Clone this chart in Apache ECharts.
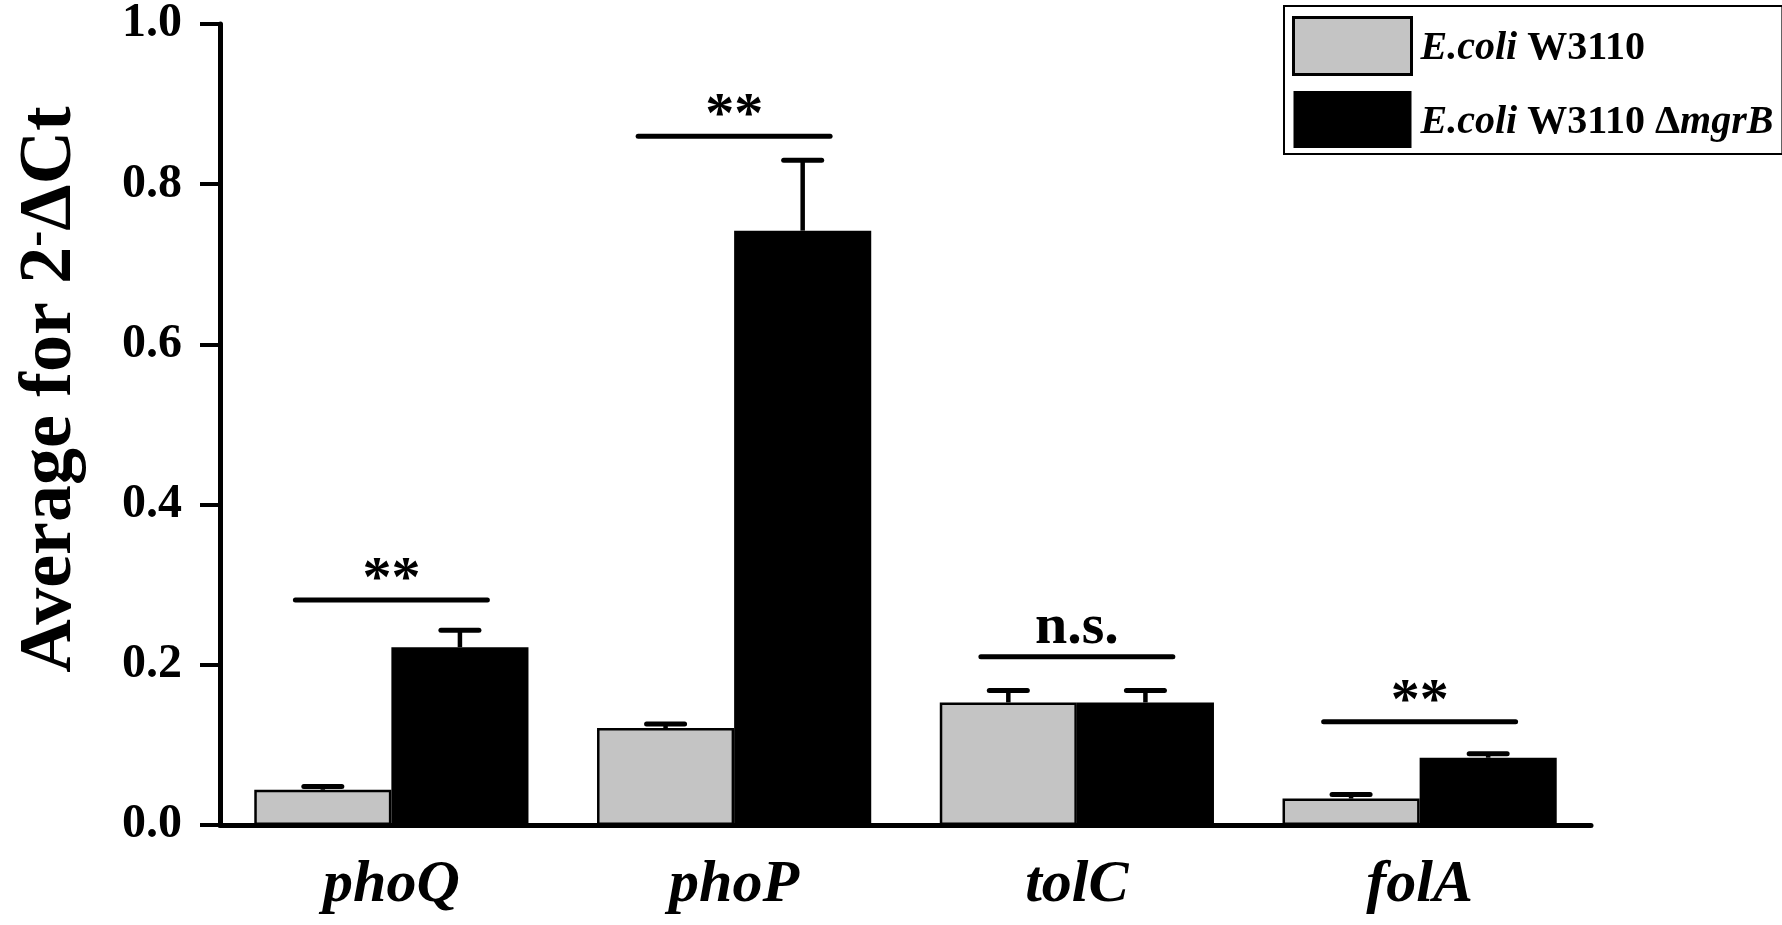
<!DOCTYPE html>
<html>
<head>
<meta charset="utf-8">
<script src="https://cdn.jsdelivr.net/npm/echarts@6/dist/echarts.min.js"></script>
<style>
html,body{margin:0;padding:0;background:#fff;}
#chart{width:1782px;height:925px;}
</style>
</head>
<body>
<div id="chart"></div>
<script>
// ---- data ----
const categories = ['phoQ', 'phoP', 'tolC', 'folA'];
const seriesNames = ['E.coli W3110', 'E.coli W3110 \u0394mgrB'];
const wtMean = [0.044, 0.121, 0.153, 0.033];
const wtErr = [0.004, 0.005, 0.015, 0.005];
const mutMean = [0.222, 0.742, 0.153, 0.084];
const mutErr = [0.021, 0.088, 0.015, 0.005];
const sigLevel = [0.281, 0.860, 0.210, 0.129];
const sigText = ['**', '**', 'n.s.', '**'];

const FONT = '"Liberation Serif", "Times New Roman", serif';

const errData = [];
categories.forEach((c, i) => {
  errData.push([i, wtMean[i], wtErr[i], 0]);
  errData.push([i, mutMean[i], mutErr[i], 1]);
});
const sigData = categories.map((c, i) => [i, sigLevel[i], i]);

const chart = echarts.init(document.getElementById('chart'), null, {renderer: 'canvas'});

const option = {
  animation: false,
  backgroundColor: '#fff',
  grid: {left: 220, right: 191, top: 24, bottom: 100, containLabel: false},
  legend: {
    orient: 'vertical',
    left: 1284,
    top: 6,
    padding: [10, 9, 6, 8],
    itemGap: 15,
    itemWidth: 118,
    itemHeight: 57,
    borderColor: '#000',
    borderWidth: 2,
    icon: 'rect',
    data: [
      {name: seriesNames[0], itemStyle: {color: '#c4c4c4', borderColor: '#000', borderWidth: 3}},
      {name: seriesNames[1], itemStyle: {color: '#000', borderColor: '#000', borderWidth: 0}}
    ],
    formatter: function (name) {
      if (name === seriesNames[0]) return '{i|E.coli }{b|W3110}';
      return '{i|E.coli }{b|W3110 \u0394}{i|mgrB}';
    },
    textStyle: {
      color: '#000',
      padding: [6, 0, 0, 4],
      rich: {
        i: {fontFamily: FONT, fontSize: 40, fontStyle: 'italic', fontWeight: 'bold', color: '#000'},
        b: {fontFamily: FONT, fontSize: 40, fontWeight: 'bold', color: '#000'}
      }
    }
  },
  xAxis: {
    type: 'category',
    data: categories,
    boundaryGap: true,
    axisLine: {lineStyle: {color: '#000', width: 5}},
    axisTick: {alignWithLabel: true, length: 22, lineStyle: {color: '#000', width: 4}},
    axisLabel: {
      color: '#000', fontFamily: FONT, fontSize: 60, fontStyle: 'italic', fontWeight: 'bold', margin: 30
    },
    splitLine: {show: false}
  },
  yAxis: {
    type: 'value',
    min: 0,
    max: 1,
    interval: 0.2,
    name: '{a|Average for 2}{s|-}{a|\u0394Ct}',
    nameLocation: 'middle',
    nameRotate: 90,
    nameGap: 132,
    nameTextStyle: {
      color: '#000',
      padding: [0, 0, 0, 70],
      rich: {
        a: {fontFamily: FONT, fontSize: 74, fontWeight: 'bold', color: '#000'},
        s: {fontFamily: FONT, fontSize: 48, fontWeight: 'bold', color: '#000', verticalAlign: 'top'}
      }
    },
    axisLine: {show: true, lineStyle: {color: '#000', width: 5}},
    axisTick: {show: true, length: 20, lineStyle: {color: '#000', width: 4}},
    axisLabel: {
      color: '#000', fontFamily: FONT, fontSize: 48, fontWeight: 'bold', margin: 38,
      formatter: v => v.toFixed(1)
    },
    splitLine: {show: false}
  },
  series: [
    {
      name: seriesNames[0],
      type: 'bar',
      data: wtMean,
      barGap: '0%',
      barCategoryGap: '20%',
      itemStyle: {color: '#c4c4c4', borderColor: '#000', borderWidth: 2.5}
    },
    {
      name: seriesNames[1],
      type: 'bar',
      data: mutMean,
      barGap: '0%',
      barCategoryGap: '20%',
      itemStyle: {color: '#000', borderColor: '#000', borderWidth: 0}
    },
    {
      name: 'err',
      type: 'custom',
      z: 5,
      data: errData,
      renderItem: function (params, api) {
        const base = api.coord([api.value(0), api.value(1)]);
        const top = api.coord([api.value(0), api.value(1) + api.value(2)]);
        const band = api.size([1, 0])[0];
        const off = (api.value(3) === 0 ? -1 : 1) * band * 0.2;
        const x = base[0] + off;
        return {
          type: 'group',
          children: [
            {type: 'line', shape: {x1: x, y1: base[1], x2: x, y2: top[1]}, style: {stroke: '#000', lineWidth: 4.5}},
            {type: 'line', shape: {x1: x - 19, y1: top[1], x2: x + 19, y2: top[1]}, style: {stroke: '#000', lineWidth: 5, lineCap: 'round'}}
          ]
        };
      }
    },
    {
      name: 'sig',
      type: 'custom',
      z: 5,
      data: sigData,
      renderItem: function (params, api) {
        const p = api.coord([api.value(0), api.value(1)]);
        const band = api.size([1, 0])[0];
        const half = band * 0.28;
        const label = sigText[api.value(2)];
        const isStar = label.indexOf('*') >= 0;
        return {
          type: 'group',
          children: [
            {type: 'line', shape: {x1: p[0] - half, y1: p[1], x2: p[0] + half, y2: p[1]},
             style: {stroke: '#000', lineWidth: 5, lineCap: 'round'}},
            {type: 'text', style: {
              text: label, x: p[0], y: p[1] + (isStar ? 10 : 0),
              align: 'center', verticalAlign: 'bottom',
              fontFamily: FONT, fontSize: 58, fontWeight: 'bold', fill: '#000'
            }}
          ]
        };
      }
    }
  ]
};
chart.setOption(option);
</script>
</body>
</html>
